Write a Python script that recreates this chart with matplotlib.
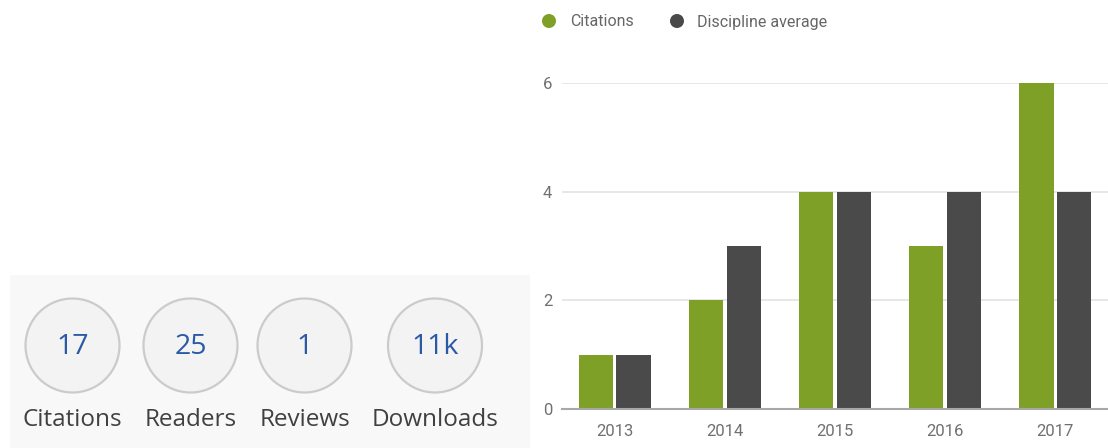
import matplotlib
matplotlib.use("Agg")
import matplotlib.pyplot as plt
from matplotlib.patches import Circle, Rectangle
import numpy as np

# ---- data ----
years = ["2013", "2014", "2015", "2016", "2017"]
citations = [1, 2, 4, 3, 6]
discipline_avg = [1, 3, 4, 4, 4]
y_ticks = [0, 2, 4, 6]
series_names = ["Citations", "Discipline average"]

stat_values = ["17", "25", "1", "11k"]
stat_labels = ["Citations", "Readers", "Reviews", "Downloads"]

# ---- style ----
GREEN = "#7ea026"
GRAY = "#4a4a4a"
W, H = 1108, 448

fig = plt.figure(figsize=(W / 100, H / 100), dpi=100)
fig.patch.set_facecolor("white")

# ---- left stats panel (pixel coordinates) ----
bg = fig.add_axes([0, 0, 1, 1])
bg.set_xlim(0, W)
bg.set_ylim(H, 0)
bg.axis("off")
bg.add_patch(Rectangle((10, 275), 520, 175, facecolor="#f8f8f8", edgecolor="none", zorder=0))
cx = [72.5, 190.5, 304.5, 435]
cy = 345.5
for x, val, lab in zip(cx, stat_values, stat_labels):
    bg.add_patch(Circle((x, cy), 47, facecolor="#f3f3f3", edgecolor="#cbcbcb", lw=1.6, zorder=1))
    bg.text(x, cy + 1, val, ha="center", va="center", fontsize=20.5,
            family="Open Sans", color="#2a5aa6", zorder=2)
    bg.text(x, 420, lab, ha="center", va="center", fontsize=17.5,
            family="Open Sans", color="#404040", zorder=2)

# legend
leg_items = [(549, GREEN, series_names[0], 570), (677, GRAY, series_names[1], 697)]
for mx, col, name, tx in leg_items:
    bg.add_patch(Circle((mx, 21), 7, facecolor=col, edgecolor="none"))
    bg.text(tx, 22, name, ha="left", va="center", fontsize=11.5,
            family="Roboto", color="#666666")

# ---- bar chart ----
ax = fig.add_axes([562 / W, (H - 409) / H, (W - 562) / W, 326 / H])
x = np.arange(len(years))
bw = 0.31
gap = 0.015
ax.bar(x - bw / 2 - gap, citations, width=bw, color=GREEN, zorder=3)
ax.bar(x + bw / 2 + gap, discipline_avg, width=bw, color=GRAY, zorder=3)
ax.set_xlim(-0.48, 4.48)
ax.set_ylim(0, 6)
ax.set_yticks(y_ticks)
ax.set_xticks(x)
ax.set_xticklabels(years)
ax.grid(axis="y", color="#e3e3e3", lw=1.2, zorder=0)
for s in ["top", "right", "left"]:
    ax.spines[s].set_visible(False)
ax.spines["bottom"].set_color("#a8a8a8")
ax.spines["bottom"].set_linewidth(1.5)
ax.spines["bottom"].set_zorder(4)
ax.tick_params(axis="both", length=0, labelsize=12, labelcolor="#707070")
ax.tick_params(axis="y", pad=7)
ax.tick_params(axis="x", pad=11)
for t in ax.get_xticklabels() + ax.get_yticklabels():
    t.set_family("Roboto")
ax.set_facecolor("none")

fig.savefig("out.png", dpi=100)
